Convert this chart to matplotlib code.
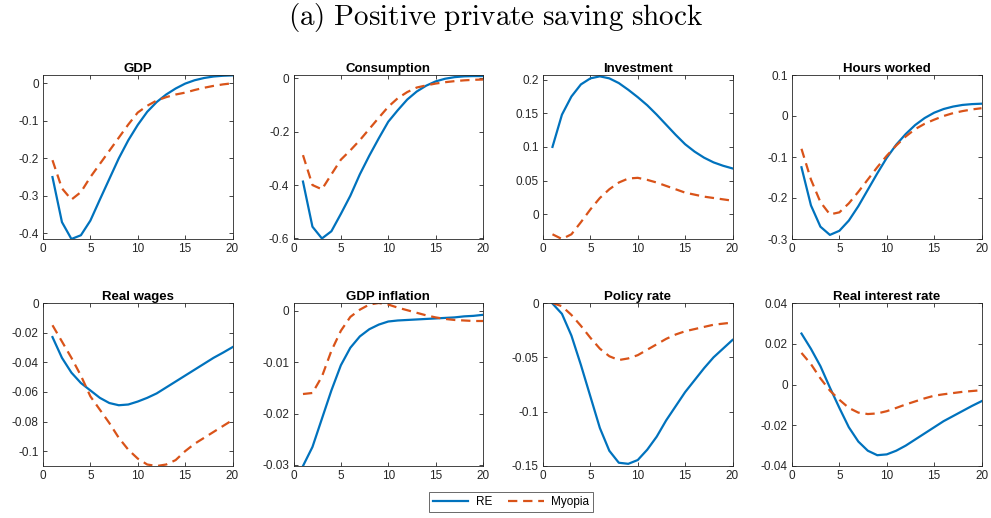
import numpy as np
import matplotlib
matplotlib.use('Agg')
import matplotlib.pyplot as plt
from matplotlib.ticker import FuncFormatter

plt.rcParams['font.family'] = ['Liberation Sans', 'DejaVu Sans']
plt.rcParams['mathtext.fontset'] = 'cm'

AZUL = '#0072BD'
NARANJA = '#D95319'
GRIS = '#262626'

# Horizonte (trimestres)
t = np.arange(1, 21)

# Respuestas al impulso: expectativas racionales (RE) y miopía
gdp_re = [-0.25, -0.37, -0.415, -0.405, -0.366, -0.31, -0.255, -0.2, -0.152, -0.111,
          -0.076, -0.05, -0.03, -0.014, -0.001, 0.008, 0.014, 0.018, 0.02, 0.021]
gdp_my = [-0.205, -0.28, -0.31, -0.29, -0.25, -0.215, -0.18, -0.145, -0.11, -0.078,
          -0.06, -0.046, -0.037, -0.03, -0.025, -0.018, -0.012, -0.007, -0.003, 0.0]

cons_re = [-0.387, -0.556, -0.6, -0.573, -0.508, -0.44, -0.36, -0.29, -0.225, -0.163,
           -0.12, -0.08, -0.05, -0.028, -0.012, -0.002, 0.004, 0.007, 0.008, 0.008]
cons_my = [-0.288, -0.4, -0.416, -0.36, -0.305, -0.27, -0.232, -0.19, -0.148, -0.107,
           -0.075, -0.052, -0.035, -0.027, -0.02, -0.015, -0.011, -0.008, -0.006, -0.005]

inv_re = [0.1, 0.148, 0.175, 0.193, 0.202, 0.205, 0.202, 0.195, 0.185, 0.174,
          0.162, 0.148, 0.133, 0.118, 0.104, 0.093, 0.084, 0.077, 0.072, 0.068]
inv_my = [-0.03, -0.037, -0.03, -0.012, 0.007, 0.024, 0.037, 0.047, 0.053, 0.054,
          0.051, 0.047, 0.042, 0.037, 0.032, 0.029, 0.026, 0.024, 0.022, 0.02]

hrs_re = [-0.125, -0.218, -0.27, -0.29, -0.28, -0.255, -0.22, -0.18, -0.14, -0.102,
          -0.07, -0.044, -0.022, -0.005, 0.008, 0.017, 0.023, 0.027, 0.029, 0.03]
hrs_my = [-0.08, -0.155, -0.21, -0.24, -0.235, -0.213, -0.185, -0.155, -0.125, -0.097,
          -0.072, -0.05, -0.032, -0.019, -0.009, 0.0, 0.007, 0.012, 0.016, 0.019]

wag_re = [-0.023, -0.037, -0.047, -0.054, -0.059, -0.064, -0.0675, -0.069, -0.0685, -0.0665,
          -0.064, -0.061, -0.057, -0.053, -0.049, -0.045, -0.041, -0.037, -0.0335, -0.0298]
wag_my = [-0.015, -0.026, -0.037, -0.049, -0.063, -0.072, -0.081, -0.091, -0.099, -0.105,
          -0.109, -0.11, -0.109, -0.106, -0.1, -0.095, -0.091, -0.087, -0.083, -0.079]

inf_re = [-0.0302, -0.0265, -0.021, -0.0155, -0.0106, -0.0072, -0.005, -0.0036, -0.0027, -0.0021,
          -0.0019, -0.0018, -0.0017, -0.0016, -0.0015, -0.0014, -0.0013, -0.0011, -0.001, -0.0008]
inf_my = [-0.0162, -0.016, -0.0128, -0.0078, -0.0039, -0.0012, 0.0002, 0.0012, 0.0015, 0.0012,
          0.0006, 0.0001, -0.0004, -0.0009, -0.0013, -0.0016, -0.0018, -0.0019, -0.002, -0.002]

pol_re = [-0.0005, -0.01, -0.03, -0.057, -0.086, -0.115, -0.136, -0.147, -0.148, -0.1445,
          -0.135, -0.123, -0.108, -0.095, -0.082, -0.071, -0.06, -0.05, -0.042, -0.034]
pol_my = [0.0, -0.003, -0.011, -0.021, -0.032, -0.042, -0.049, -0.0525, -0.051, -0.048,
          -0.043, -0.038, -0.033, -0.029, -0.026, -0.024, -0.022, -0.02, -0.019, -0.018]

rir_re = [0.025, 0.0175, 0.009, -0.0015, -0.0115, -0.021, -0.028, -0.0325, -0.0347, -0.0343,
          -0.0325, -0.03, -0.027, -0.024, -0.021, -0.018, -0.0155, -0.013, -0.0105, -0.0082]
rir_my = [0.0155, 0.01, 0.003, -0.003, -0.0075, -0.0115, -0.0138, -0.0145, -0.0142, -0.0131,
          -0.0115, -0.0098, -0.0083, -0.0068, -0.0055, -0.0048, -0.0042, -0.0036, -0.0032, -0.0028]

titulos = ['GDP', 'Consumption', 'Investment', 'Hours worked',
           'Real wages', 'GDP inflation', 'Policy rate', 'Real interest rate']
series_re = [gdp_re, cons_re, inv_re, hrs_re, wag_re, inf_re, pol_re, rir_re]
series_my = [gdp_my, cons_my, inv_my, hrs_my, wag_my, inf_my, pol_my, rir_my]
limites_y = [(-0.415, 0.022), (-0.602, 0.012), (-0.037, 0.207), (-0.3, 0.1),
             (-0.11, 0.0), (-0.0302, 0.0015), (-0.15, 0.0), (-0.04, 0.04)]
ticks_y = [np.arange(-0.4, 0.01, 0.1), np.arange(-0.6, 0.01, 0.2),
           np.arange(0, 0.21, 0.05), np.arange(-0.3, 0.11, 0.1),
           np.arange(-0.1, 0.001, 0.02), np.arange(-0.03, 0.001, 0.01),
           np.arange(-0.15, 0.001, 0.05), np.arange(-0.04, 0.041, 0.02)]

fig = plt.figure(figsize=(9.91, 5.18), dpi=100)

izq = [43 / 991, 293.5 / 991, 543 / 991, 792 / 991]
ancho = 189.5 / 991
abajo = [1 - 239 / 518, 1 - 466 / 518]
alto = [164 / 518, 163 / 518]


def fmt_matlab(v, pos):
    v = round(v, 6)
    if abs(v) < 1e-12:
        return '0'
    return f'{v:g}'


lineas = []
for i in range(8):
    fila, col = divmod(i, 4)
    ax = fig.add_axes([izq[col], abajo[fila], ancho, alto[fila]])
    l1, = ax.plot(t, series_re[i], color=AZUL, lw=1.6, label='RE')
    l2, = ax.plot(t, series_my[i], color=NARANJA, lw=1.6, ls='--',
                  dashes=(4.2, 2.6), label='Myopia')
    lineas = [l1, l2]
    ax.set_xlim(0, 20)
    ax.set_ylim(*limites_y[i])
    ax.set_xticks([0, 5, 10, 15, 20])
    ax.set_yticks(ticks_y[i])
    ax.yaxis.set_major_formatter(FuncFormatter(fmt_matlab))
    ax.tick_params(direction='in', top=True, right=True, length=3, width=0.6,
                   labelsize=8.5, colors=GRIS, pad=3)
    for s in ax.spines.values():
        s.set_linewidth(0.6)
        s.set_color(GRIS)
    ax.set_title(titulos[i], fontsize=9.5, fontweight='bold', pad=2)

fig.text(0.5, 0.966, r'$\mathrm{(a)\ Positive\ private\ saving\ shock}$',
         ha='center', va='center', fontsize=21)

leg = fig.legend(lineas, ['RE', 'Myopia'], loc='center', ncol=2,
                 bbox_to_anchor=(511 / 991, 1 - 502 / 518), fontsize=8.5,
                 fancybox=False, edgecolor=GRIS, handlelength=3.0,
                 columnspacing=1.4, borderpad=0.35, handletextpad=0.6)
leg.get_frame().set_linewidth(0.6)

plt.savefig('out.png', dpi=100)
plt.close()
